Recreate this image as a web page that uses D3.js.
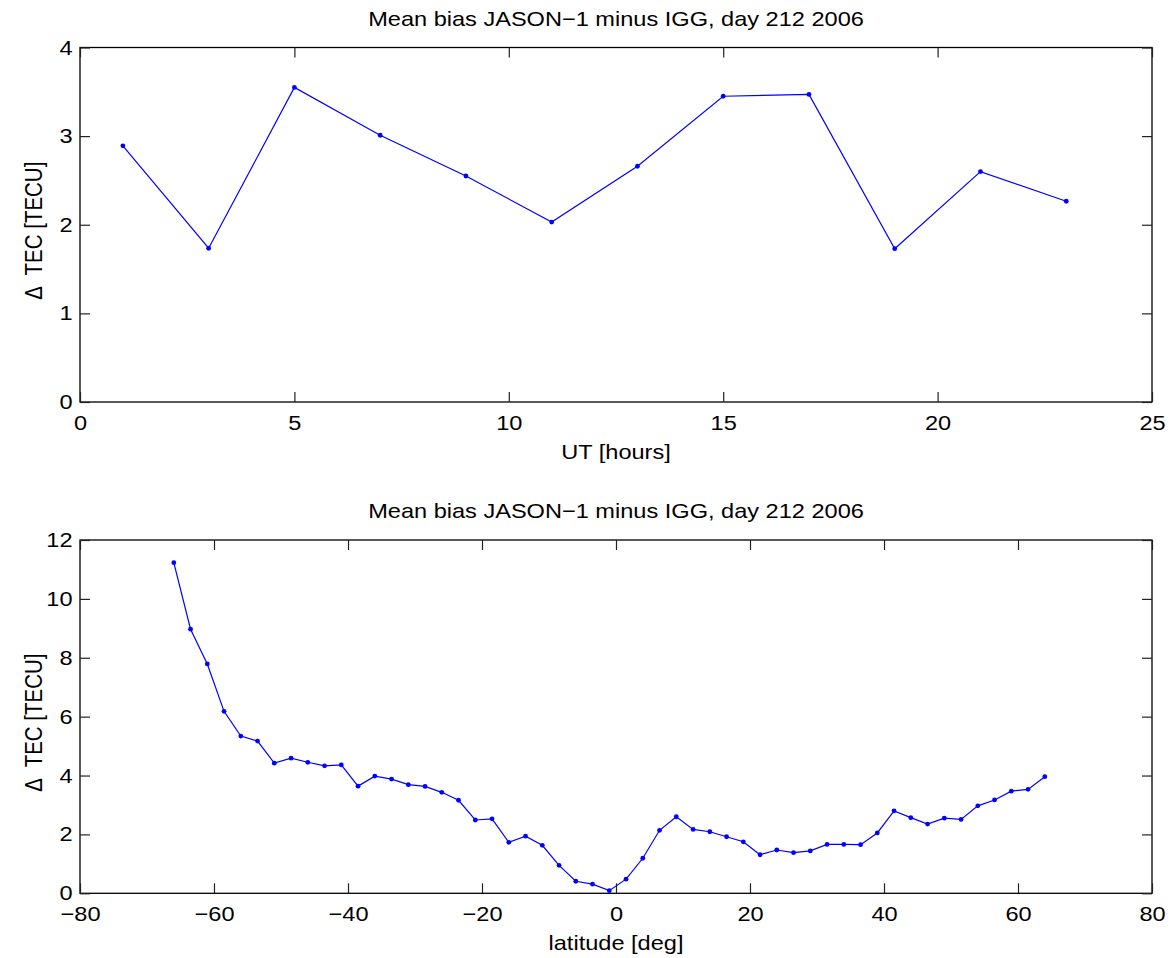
<!DOCTYPE html>
<html><head><meta charset="utf-8">
<script src="https://cdn.jsdelivr.net/npm/d3@7"></script>
<style>
html,body{margin:0;padding:0;background:#fff;}
text{font-family:"Liberation Sans",Arial,Helvetica,sans-serif;fill:#000;}
</style></head>
<body><svg id="c" width="1174" height="958"></svg>
<script>
const titleText = "Mean bias JASON\u22121 minus IGG, day 212 2006";
const yLabelDelta = "\u0394";
const yLabelRest = " TEC [TECU]";

const utHours = [1,3,5,7,9,11,13,15,17,19,21,23];
const utBias  = [2.89,1.735,3.55,3.01,2.55,2.03,2.66,3.45,3.47,1.73,2.60,2.265];
const utTicksX = [0,5,10,15,20,25];
const utTicksY = [0,1,2,3,4];

const latitudes = [-66,-63.5,-61,-58.5,-56,-53.5,-51,-48.5,-46,-43.5,-41,-38.5,-36,-33.5,-31,-28.5,-26,-23.5,-21,-18.5,-16,-13.5,-11,-8.5,-6,-3.5,-1,1.5,4,6.5,9,11.5,14,16.5,19,21.5,24,26.5,29,31.5,34,36.5,39,41.5,44,46.5,49,51.5,54,56.5,59,61.5,64];
const latBias = [11.23,8.97,7.79,6.18,5.34,5.17,4.42,4.59,4.45,4.33,4.36,3.64,3.98,3.88,3.69,3.63,3.43,3.16,2.49,2.53,1.73,1.94,1.63,0.95,0.41,0.31,0.09,0.48,1.19,2.14,2.60,2.17,2.09,1.92,1.75,1.31,1.47,1.38,1.44,1.66,1.66,1.65,2.05,2.80,2.57,2.35,2.55,2.51,2.97,3.17,3.47,3.53,3.96];
const latTicksX = [-80,-60,-40,-20,0,20,40,60,80];
const latTicksY = [0,2,4,6,8,10,12];

const FS = 20.5, SX = 1.15;
const svg = d3.select("#c");
const fmt = d => (d < 0 ? "\u2212" + Math.abs(d) : String(d));

function hText(g, x, y, str){
  return g.append("text").attr("transform",`translate(${x},${y}) scale(${SX},1)`)
    .attr("text-anchor","middle").attr("font-size",FS).text(str);
}

function panel(cfg){
  const {left,right,top,bottom,xDom,yDom,xTicks,yTicks,xs,ys,xlabel} = cfg;
  const x = d3.scaleLinear().domain(xDom).range([left,right]);
  const y = d3.scaleLinear().domain(yDom).range([bottom,top]);
  const g = svg.append("g");
  const tl = 10;
  g.append("rect").attr("x",left).attr("y",top).attr("width",right-left).attr("height",bottom-top)
    .attr("fill","none").attr("stroke","#000").attr("stroke-width",1.3);
  const ax = d3.axisBottom(x).tickValues(xTicks).tickSize(-tl).tickFormat(fmt).tickPadding(13);
  const axT = d3.axisTop(x).tickValues(xTicks).tickSize(-tl).tickFormat("");
  const ay = d3.axisLeft(y).tickValues(yTicks).tickSize(-tl).tickFormat(fmt).tickPadding(6.5);
  const ayR = d3.axisRight(y).tickValues(yTicks).tickSize(-tl).tickFormat("");
  [[ax,`translate(0,${bottom})`],[axT,`translate(0,${top})`],[ay,`translate(${left},0)`],[ayR,`translate(${right},0)`]]
   .forEach(([a,t])=>{
     const s = g.append("g").attr("transform",t).call(a);
     s.select(".domain").remove();
     s.selectAll(".tick line").attr("stroke","#222").attr("stroke-width",1.2);
     s.selectAll("text").attr("font-size",FS).attr("font-family","Liberation Sans, Arial, sans-serif")
       .attr("transform",`scale(${SX},1)`);
   });
  const pts = xs.map((v,i)=>[v,ys[i]]);
  g.append("path").datum(pts).attr("fill","none").attr("stroke","#0000ff").attr("stroke-width",1.2)
    .attr("d",d3.line().x(d=>x(d[0])).y(d=>y(d[1])));
  g.selectAll("circle.m").data(pts).join("circle").attr("class","m")
    .attr("cx",d=>x(d[0])).attr("cy",d=>y(d[1])).attr("r",2.4).attr("fill","#0000ff");
  const cx = (left+right)/2;
  hText(g, cx, top-22, titleText);
  hText(g, cx, bottom+57, xlabel);
  const yl = g.append("text").attr("transform",`translate(42,${(top+bottom)/2 + 6}) scale(${SX},1) rotate(-90)`)
    .attr("text-anchor","middle").attr("font-size",FS);
  yl.append("tspan").text(yLabelDelta);
  yl.append("tspan").attr("dx",5).text(yLabelRest);
}

panel({left:80,right:1152,top:47.5,bottom:402,xDom:[0,25],yDom:[0,4],xTicks:utTicksX,yTicks:utTicksY,
  xs:utHours,ys:utBias,xlabel:"UT [hours]"});
panel({left:80,right:1152,top:540,bottom:893.3,xDom:[-80,80],yDom:[0,12],xTicks:latTicksX,yTicks:latTicksY,
  xs:latitudes,ys:latBias,xlabel:"latitude [deg]"});
</script></body></html>
